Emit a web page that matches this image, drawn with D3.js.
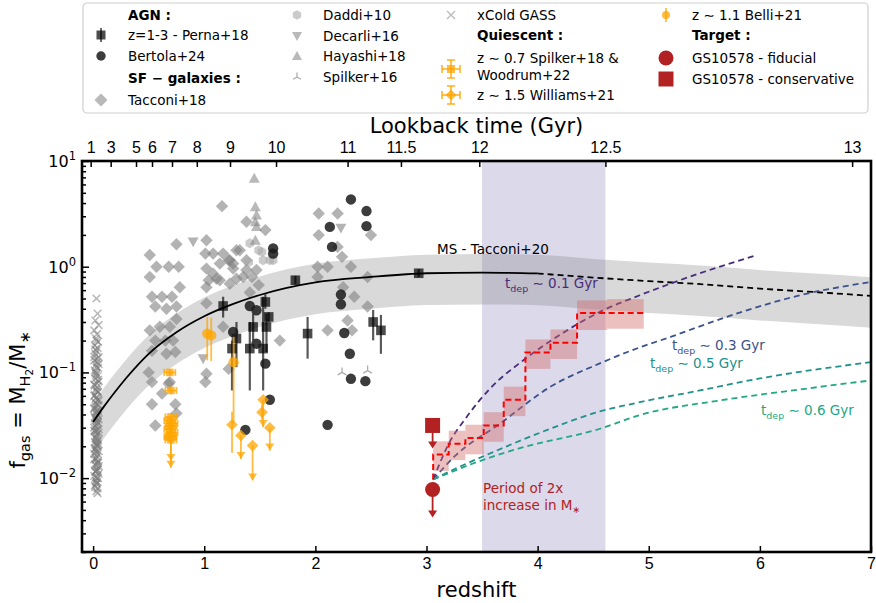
<html>
<head>
<meta charset="utf-8">
<script src="https://d3js.org/d3.v7.min.js"></script>
<style>
body { margin:0; background:#fff; }
svg { font-family: "DejaVu Sans", sans-serif; }
.axis path { display:none; }
.axis line { stroke:#000; stroke-width:1.5; }
.axis text { font-size:16px; fill:#000; }
</style>
</head>
<body>
<div id="chart"></div>
<script>

// ---------- data (redshift, f_gas) ----------
var msZ = [0,0.1,0.2,0.3,0.5,0.75,1,1.25,1.5,2,2.5,3,3.5,4,4.5,5,5.5,6,6.5,7];
var msF = [0.034,0.048,0.066,0.089,0.150,0.24,0.34,0.44,0.54,0.71,0.80,0.867,0.88,0.863,0.79,0.73,0.68,0.62,0.575,0.53];
var msSolidEnd = 4, msBandLo = 0.5, msBandHi = 1.5;

var periodBand = [3.5, 4.61];

var tdep01 = [[3.06,0.0097],[3.20,0.0211],[3.36,0.0377],[3.57,0.070],[3.87,0.130],[4.17,0.216],[4.59,0.387],[4.92,0.537],[5.28,0.745],[5.97,1.285]];
var tdep03 = [[3.06,0.0097],[3.26,0.0163],[3.66,0.0327],[4.11,0.0726],[4.56,0.1217],[4.92,0.1726],[5.21,0.219],[5.46,0.273],[5.91,0.395],[6.36,0.537],[7.0,0.718]];
var tdep05 = [[3.06,0.0097],[3.30,0.01285],[3.57,0.0171],[4.05,0.0276],[4.56,0.0427],[4.92,0.0523],[5.46,0.0675],[6.0,0.0877],[7.0,0.125]];
var tdep06 = [[3.06,0.0097],[3.39,0.0134],[3.84,0.0192],[4.56,0.0293],[4.92,0.0395],[5.64,0.0543],[6.36,0.069],[7.0,0.084]];
var tdepLabels = ["0.1","0.3","0.5","0.6"];

var stepEdges = [3.06,3.20,3.35,3.515,3.695,3.89,4.115,4.355,4.625,4.955];
var stepF  = [0.0167,0.0211,0.0240,0.0315,0.0551,0.154,0.191,0.365,0.365];
var stepLo = [0.0117,0.0148,0.0168,0.0221,0.0386,0.108,0.134,0.252,0.259];
var stepHi = [0.0223,0.0281,0.0320,0.0420,0.0734,0.205,0.255,0.480,0.493];
var stepStart = 0.0097;

var targetZ = 3.055;
var fiducial = [0.0078, 0.00424];      // value, upper-limit arrow end
var conservative = [0.0315, 0.0191];

var xcold = [[0.03,0.50],[0.04,0.36],[0.02,0.31],[0.05,0.28],[0.01,0.25],[0.035,0.23],[0.025,0.21],[0.045,0.195],[0.015,0.18],[0.04,0.17],[0.03,0.16],[0.02,0.15],[0.05,0.14],[0.01,0.13],[0.035,0.125],[0.025,0.118],[0.045,0.11],[0.015,0.104],[0.03,0.098],[0.04,0.092],[0.02,0.087],[0.05,0.082],[0.01,0.077],[0.035,0.073],[0.025,0.069],[0.045,0.065],[0.015,0.061],[0.03,0.058],[0.04,0.055],[0.02,0.052],[0.05,0.049],[0.01,0.046],[0.035,0.044],[0.025,0.041],[0.045,0.039],[0.015,0.037],[0.03,0.035],[0.04,0.033],[0.02,0.031],[0.05,0.029],[0.01,0.028],[0.035,0.026],[0.025,0.025],[0.045,0.023],[0.015,0.022],[0.03,0.021],[0.04,0.020],[0.02,0.019],[0.05,0.018],[0.01,0.017],[0.035,0.016],[0.025,0.015],[0.045,0.014],[0.015,0.0135],[0.03,0.013],[0.04,0.012],[0.02,0.0115],[0.05,0.011],[0.01,0.0105],[0.035,0.010],[0.025,0.0095],[0.03,0.009],[0.015,0.0085],[0.04,0.008],[0.03,0.0075],
  [0.01,0.14],[0.05,0.12],[0.02,0.10],[0.045,0.085],[0.015,0.075],[0.04,0.066],[0.01,0.06],[0.05,0.054],[0.02,0.048],[0.045,0.043],[0.015,0.038],[0.04,0.034],[0.01,0.030],[0.05,0.027],[0.02,0.024],[0.045,0.021],[0.015,0.019],[0.04,0.017],[0.01,0.015],[0.05,0.013],[0.02,0.0115],[0.045,0.010],[0.03,0.0088],[0.01,0.045],[0.05,0.036],[0.015,0.028],[0.04,0.022],[0.02,0.018],[0.045,0.0145],[0.035,0.012],
  [0.03,0.20],[0.02,0.165],[0.04,0.135],[0.03,0.112],[0.025,0.094],[0.035,0.079],[0.03,0.067],[0.025,0.057],[0.035,0.05],[0.03,0.042],[0.025,0.037],[0.035,0.032],[0.03,0.028],[0.025,0.0235],[0.035,0.0205],[0.03,0.0178],[0.025,0.0155],[0.035,0.0138],[0.03,0.0118],[0.025,0.0102],[0.035,0.0092],[0.02,0.0082],[0.04,0.0072]];

var tacconi = [[0.51,1.29],[0.57,1.0],[0.51,0.80],[0.68,1.0],[0.77,1.0],[0.78,0.64],[0.53,0.52],[0.62,0.52],[0.71,0.52],[0.56,0.42],[0.66,0.40],[0.75,0.42],[0.51,0.25],[0.60,0.27],[0.69,0.27],[0.75,0.32],[0.56,0.20],[0.65,0.20],[0.72,0.20],[0.53,0.16],[0.66,0.15],[0.74,0.156],[0.50,0.10],[0.53,0.081],[0.62,0.063],[0.68,0.078],[0.74,0.050],[0.53,0.050],[0.56,0.0315],[0.69,0.081],[0.75,0.041],[0.75,1.63],
  [1.02,1.78],[1.16,3.74],[1.02,0.96],[1.17,1.33],[1.29,1.43],[1.14,1.07],[1.22,1.15],[1.26,1.07],[1.04,0.745],[1.08,0.86],[1.14,0.745],[1.29,0.77],[1.38,0.93],[1.02,0.45],[1.17,0.27],[1.02,0.097],[1.01,0.081],[1.22,0.108],[1.01,1.33],[1.08,1.33],[1.32,1.43],[1.23,0.69],[1.02,0.64],[1.35,0.80],[1.11,0.77],[1.23,1.15],[1.38,1.15],[1.26,0.96],
  [1.38,2.66],[1.55,2.22],[1.47,0.93],[1.43,0.80],[1.49,0.67],[1.41,0.57],
  [2.03,3.19],[2.20,3.19],[2.03,1.99],[2.50,1.99],[2.20,1.54],[2.02,1.0],[2.11,1.0],[2.24,1.24],[2.32,1.0],[2.02,0.80],[2.25,0.64],[2.35,0.52],[2.47,0.80],[2.47,0.42],[2.29,0.31],[2.11,0.25],[2.33,0.25],[1.68,0.20]];

var daddi = [[1.41,1.67],[1.49,1.43],[1.59,1.15],[1.53,1.15],[1.52,1.38],[1.40,1.10],[1.62,1.15]];
var decarli = [[0.90,1.72],[0.99,0.135],[2.23,2.32]];
var hayashi = [[1.45,6.85],[1.46,3.69],[1.47,3.08],[1.46,2.66],[1.47,2.39],[1.46,1.78]];
var spilker16 = [[2.24,0.10],[2.47,0.104]];

// z, f, lower, upper
var perna = [[1.17,0.425,0.33,0.52],[1.25,0.168,0.0675,0.20],[1.29,0.209,0.112,0.30],[1.41,0.168,0.0675,0.30],[1.44,0.269,0.20,0.36],[1.53,0.168,0.0675,0.52],[1.55,0.464,0.40,0.55],[1.58,0.335,0.30,0.37],[1.56,0.269,0.156,0.36],[1.82,0.745,0.68,0.82],[1.93,0.233,0.135,0.335],[2.52,0.30,0.201,0.39],[2.59,0.25,0.150,0.35],[2.93,0.867,0.80,0.95]];

var bertola = [[1.62,1.49],[1.62,1.33],[1.41,0.425],[1.47,0.387],[1.26,0.241],[1.47,0.187],[1.55,0.121],[1.59,0.0551],[1.37,0.0286],[2.32,4.33],[2.46,3.36],[2.46,2.42],[2.13,2.38],[2.15,1.54],[2.23,0.545],[2.23,0.441],[2.26,0.236],[2.31,0.150],[2.32,0.087],[2.45,0.0827],[2.11,0.0319]];

// z, f, lower, upper, upper-limit flag
var spilker18 = [[0.69,0.10,0.093,0.108,0],[0.70,0.0675,0.062,0.073,0],[0.70,0.038,0.035,0.041,0],[0.69,0.035,0.032,0.038,0],[0.71,0.033,0.030,0.036,0],[0.70,0.031,0.028,0.034,0],[0.69,0.029,0.026,0.032,0],[0.71,0.027,0.024,0.030,0],[0.69,0.0245,0.022,0.027,0],[0.70,0.025,0.0145,0.025,1],[0.70,0.023,0.0125,0.023,1]];
var williams = [[1.25,0.032,0.0174,0.0425,0],[1.33,0.0253,0.0152,0.0253,1],[1.435,0.0203,0.0095,0.0203,1],[1.53,0.055,0.0304,0.055,1],[1.52,0.042,0.035,0.05,0],[1.59,0.030,0.0182,0.030,1]];
var belli = [[1.027,0.233,0.13,0.335],[1.063,0.224,0.128,0.33],[1.264,0.125,0.033,0.217]];

var lookbackLabels = ["1","3","5","6","7","8","9","10","11","11.5","12","12.5","13"];
var lookbackZ = [-0.022,0.158,0.386,0.53,0.71,0.933,1.232,1.646,2.29,2.77,3.475,4.61,6.83];
var zTicks = [0,1,2,3,4,5,6,7];
var yMajor = [0.01,0.1,1,10];
var yMajorExp = ["\u22122","\u22121","0","1"];

// ---------- setup ----------
var width = 876, height = 603;
var svg = d3.select("#chart").append("svg").attr("width", width).attr("height", height);

var x = d3.scaleLinear().domain([-0.1, 7]).range([82, 871]);
var y = d3.scaleLog().domain([0.002, 10]).range([552, 161]);

svg.append("clipPath").attr("id", "clip").append("rect")
	.attr("x", 82).attr("y", 161).attr("width", 789).attr("height", 391);
var g = svg.append("g").attr("clip-path", "url(#clip)");

var tacGray = "#808080", orange = "#ffa500", fire = "#b22222";
var tdepColors = ["#472d7b", "#3b528b", "#21918c", "#22a884"];

// marker paths centred on 0,0
function diamond(s) { return "M0," + (-s) + "L" + s + ",0L0," + s + "L" + (-s) + ",0Z"; }
function square(s) { return "M" + (-s) + "," + (-s) + "h" + 2*s + "v" + 2*s + "h" + (-2*s) + "Z"; }
function triUp(r) { return "M0," + (-r) + "L" + r + "," + (r*0.8) + "L" + (-r) + "," + (r*0.8) + "Z"; }
function triDown(r) { return "M0," + r + "L" + r + "," + (-r*0.8) + "L" + (-r) + "," + (-r*0.8) + "Z"; }
function hexagon(r) {
	var p = [];
	for (var i = 0; i < 6; i++) { var a = Math.PI/2 + i*Math.PI/3; p.push([r*Math.cos(a), -r*Math.sin(a)]); }
	return "M" + p.join("L") + "Z";
}
function threeArms(r) { return "M0,0L0," + (-r) + "M0,0L" + (r*0.87) + "," + (r*0.5) + "M0,0L" + (-r*0.87) + "," + (r*0.5); }
function cross(r) { return "M" + (-r) + "," + (-r) + "L" + r + "," + r + "M" + (-r) + "," + r + "L" + r + "," + (-r); }
function circle(r) { return "M" + (-r) + ",0A" + r + "," + r + " 0 1,0 " + r + ",0A" + r + "," + r + " 0 1,0 " + (-r) + ",0Z"; }
function arrowHead(w, h) { return "M" + (-w) + "," + (-h) + "L" + w + "," + (-h) + "L0,0Z"; }

function scatter(data, path, fill, op, stroke, sw) {
	g.append("g").selectAll("path").data(data).enter().append("path")
		.attr("transform", function(d) { return "translate(" + x(d[0]) + "," + y(d[1]) + ")"; })
		.attr("d", path)
		.attr("fill", fill)
		.attr("fill-opacity", op)
		.attr("stroke", stroke || "none")
		.attr("stroke-opacity", stroke ? op : null)
		.attr("stroke-width", sw || 0);
}

// period of 2x mass growth
g.append("rect")
	.attr("x", x(periodBand[0])).attr("y", 161)
	.attr("width", x(periodBand[1]) - x(periodBand[0])).attr("height", 391)
	.attr("fill", "#7b72b0").attr("fill-opacity", 0.27);

// main sequence band
var ms = msZ.map(function(z, i) { return [z, msF[i]]; });
g.append("path").datum(ms)
	.attr("d", d3.area().curve(d3.curveMonotoneX)
		.x(function(d) { return x(d[0]); })
		.y0(function(d) { return y(d[1]*msBandLo); })
		.y1(function(d) { return y(d[1]*msBandHi); }))
	.attr("fill", "#808080").attr("fill-opacity", 0.3);

// literature samples
scatter(xcold, cross(3.8), "none", 0.55, "#7a7a7a", 1.5);
scatter(tacconi, diamond(6.2), tacGray, 0.6);
scatter(daddi, hexagon(5), "#a8a8a8", 0.6);
scatter(decarli, triDown(5.5), tacGray, 0.6);
scatter(hayashi, triUp(5.5), tacGray, 0.55);
scatter(spilker16, threeArms(5), "none", 0.8, "#999", 1.3);

// Perna+18 with error bars
g.append("g").selectAll("line").data(perna).enter().append("line")
	.attr("x1", function(d) { return x(d[0]); }).attr("x2", function(d) { return x(d[0]); })
	.attr("y1", function(d) { return y(d[2]); }).attr("y2", function(d) { return y(d[3]); })
	.attr("stroke", "#000").attr("stroke-opacity", 0.65).attr("stroke-width", 2.2);
scatter(perna, square(4.8), "#000", 0.7);

scatter(bertola, circle(5.2), "#1a1a1a", 0.85);

// quiescent / orange samples
function orangeBars(data, capX) {
	var gg = g.append("g").attr("stroke", orange).attr("stroke-opacity", 0.75).attr("stroke-width", 1.8);
	data.forEach(function(d) {
		gg.append("line").attr("x1", x(d[0])).attr("x2", x(d[0])).attr("y1", y(d[2])).attr("y2", y(d[3]));
		if (d[4]) {
			gg.append("path").attr("d", arrowHead(4.5, 7))
				.attr("transform", "translate(" + x(d[0]) + "," + y(d[2]) + ")")
				.attr("fill", orange).attr("fill-opacity", 0.75).attr("stroke", "none");
		}
		if (capX) {
			gg.append("line").attr("x1", x(d[0] - capX)).attr("x2", x(d[0] + capX)).attr("y1", y(d[1])).attr("y2", y(d[1]));
			gg.append("line").attr("x1", x(d[0] - capX)).attr("x2", x(d[0] - capX)).attr("y1", y(d[1]) - 3.5).attr("y2", y(d[1]) + 3.5);
			gg.append("line").attr("x1", x(d[0] + capX)).attr("x2", x(d[0] + capX)).attr("y1", y(d[1]) - 3.5).attr("y2", y(d[1]) + 3.5);
		}
	});
}
orangeBars(spilker18, 0.05);
scatter(spilker18, square(3.8), orange, 0.75);
orangeBars(williams, 0);
scatter(williams, diamond(5.8), orange, 0.75);
orangeBars(belli.map(function(d) { return d.concat([0]); }), 0);
scatter(belli, circle(5.2), orange, 0.75);

// main sequence line
var line = d3.line().curve(d3.curveMonotoneX)
	.x(function(d) { return x(d[0]); }).y(function(d) { return y(d[1]); });
g.append("path").datum(ms.filter(function(d) { return d[0] <= msSolidEnd; }))
	.attr("d", line).attr("fill", "none").attr("stroke", "#000").attr("stroke-width", 1.8);
g.append("path").datum(ms.filter(function(d) { return d[0] >= msSolidEnd; }))
	.attr("d", line).attr("fill", "none").attr("stroke", "#000").attr("stroke-width", 1.8)
	.attr("stroke-dasharray", "6,4");

// depletion time tracks
[tdep01, tdep03, tdep05, tdep06].forEach(function(t, i) {
	g.append("path").datum(t).attr("d", line).attr("fill", "none")
		.attr("stroke", tdepColors[i]).attr("stroke-width", 1.8).attr("stroke-dasharray", "6,4");
});

// stellar-mass doubling steps
stepF.forEach(function(v, i) {
	g.append("rect")
		.attr("x", x(stepEdges[i])).attr("width", x(stepEdges[i+1]) - x(stepEdges[i]))
		.attr("y", y(stepHi[i])).attr("height", y(stepLo[i]) - y(stepHi[i]))
		.attr("fill", "#d46a6a").attr("fill-opacity", 0.42);
});
var steps = [[stepEdges[0], stepStart]];
stepF.forEach(function(v, i) { steps.push([stepEdges[i], v]); steps.push([stepEdges[i+1], v]); });
g.append("path").datum(steps)
	.attr("d", d3.line().x(function(d) { return x(d[0]); }).y(function(d) { return y(d[1]); }))
	.attr("fill", "none").attr("stroke", "#ff0000").attr("stroke-width", 2).attr("stroke-dasharray", "6,3.5");

// target upper limits
[fiducial, conservative].forEach(function(t) {
	g.append("line").attr("x1", x(targetZ)).attr("x2", x(targetZ))
		.attr("y1", y(t[0])).attr("y2", y(t[1]) - 4)
		.attr("stroke", fire).attr("stroke-width", 1.8);
	g.append("path").attr("d", arrowHead(4.5, 7))
		.attr("transform", "translate(" + x(targetZ) + "," + y(t[1]) + ")").attr("fill", fire);
});
g.append("path").attr("d", circle(7.5))
	.attr("transform", "translate(" + x(targetZ) + "," + y(fiducial[0]) + ")").attr("fill", fire);
g.append("path").attr("d", square(7.5))
	.attr("transform", "translate(" + x(targetZ) + "," + y(conservative[0]) + ")").attr("fill", fire);

// ---------- annotations ----------
function label(parent, px, py, parts, size, color, anchor) {
	var t = parent.append("text").attr("x", px).attr("y", py)
		.attr("font-size", size).attr("fill", color || "#000")
		.attr("text-anchor", anchor || "start");
	var prev = 0;
	parts.forEach(function(p) {
		var off = p[1] || 0, fs = p[2] || size;
		t.append("tspan").attr("dy", off - prev).attr("font-size", fs).text(p[0]);
		prev = off;
	});
	return t;
}
svg.append("text").attr("x", 437).attr("y", 254).attr("font-size", 13.5).text("MS - Tacconi+20");

var tdepPos = [[505, 288], [672, 350], [650, 368], [761, 415]];
tdepLabels.forEach(function(s, i) {
	label(svg, tdepPos[i][0], tdepPos[i][1],
		[["t"], ["dep", 4, 9.5], [" \u223c " + s + " Gyr", 0]], 13.5, tdepColors[i]);
});
svg.append("text").attr("x", 483).attr("y", 493).attr("font-size", 13.5).attr("fill", fire).text("Period of 2x");
label(svg, 483, 510, [["increase in M"], ["\u2217", 3, 9.5]], 13.5, fire);

// ---------- axes ----------
svg.append("g").attr("class", "axis").attr("transform", "translate(0,552)")
	.call(d3.axisBottom(x).tickValues(zTicks).tickSize(-6).tickPadding(6).tickFormat(d3.format("d")));
svg.append("g").attr("class", "axis").attr("transform", "translate(0,161)")
	.call(d3.axisTop(x).tickValues(lookbackZ).tickSize(-6).tickPadding(8)
		.tickFormat(function(d, i) { return lookbackLabels[i]; }));

var minor = y.ticks().filter(function(v) { return yMajor.indexOf(v) < 0; });
svg.append("g").attr("class", "axis").attr("transform", "translate(82,0)")
	.call(d3.axisLeft(y).tickValues(minor).tickSize(-4).tickFormat(""));
svg.append("g").attr("class", "axis").attr("transform", "translate(82,0)")
	.call(d3.axisLeft(y).tickValues(yMajor).tickSize(-7).tickFormat(""));
yMajor.forEach(function(v, i) {
	var t = svg.append("text").attr("x", 76).attr("y", y(v) + 6).attr("text-anchor", "end").attr("font-size", 16);
	t.append("tspan").text("10");
	t.append("tspan").attr("dy", -7).attr("font-size", 11.5).text(yMajorExp[i]);
});

svg.append("rect").attr("x", 82).attr("y", 161).attr("width", 789).attr("height", 391)
	.attr("fill", "none").attr("stroke", "#000").attr("stroke-width", 2.6);

svg.append("text").attr("x", 476.5).attr("y", 597).attr("text-anchor", "middle").attr("font-size", 21).text("redshift");
svg.append("text").attr("x", 476.5).attr("y", 133).attr("text-anchor", "middle").attr("font-size", 21).text("Lookback time (Gyr)");

var yl = label(svg, 0, 0, [["f"], ["gas", 5, 14.5], [" = M", 0], ["H", 5, 14.5], ["2", 8, 10.5], ["/M", 0], ["\u2217", 5, 14.5]], 21, "#000", "middle");
yl.attr("transform", "translate(25,400) rotate(-90)");

// ---------- legend ----------
var lg = svg.append("g");
lg.append("rect").attr("x", 83).attr("y", 3).attr("width", 785).attr("height", 110).attr("rx", 4)
	.attr("fill", "#fff").attr("stroke", "#cfcfcf").attr("stroke-width", 1.2);

function legText(px, py, s, bold) {
	return lg.append("text").attr("x", px).attr("y", py + 5).attr("font-size", 13.5)
		.attr("font-weight", bold ? "bold" : null).text(s);
}
function legMark(px, py, path, fill, op, stroke, sw) {
	lg.append("path").attr("d", path).attr("transform", "translate(" + px + "," + py + ")")
		.attr("fill", fill).attr("fill-opacity", op)
		.attr("stroke", stroke || "none").attr("stroke-opacity", stroke ? op : null).attr("stroke-width", sw || 0);
}
function legBar(x1, y1, x2, y2, color, op) {
	lg.append("line").attr("x1", x1).attr("y1", y1).attr("x2", x2).attr("y2", y2)
		.attr("stroke", color).attr("stroke-opacity", op).attr("stroke-width", 1.8);
}

legText(128, 15, "AGN :", true);
legBar(101, 28, 101, 42, "#000", 0.65);
legMark(101, 35, square(4.5), "#000", 0.7);
legText(128, 35, "z=1-3 - Perna+18");
legMark(101, 56, circle(4.7), "#1a1a1a", 0.85);
legText(128, 56, "Bertola+24");
legText(128, 78, "SF \u2212 galaxies :", true);
legMark(101, 100, diamond(6.5), tacGray, 0.55);
legText(128, 100, "Tacconi+18");

legMark(297, 15, hexagon(4.8), "#a8a8a8", 0.6);
legText(323, 15, "Daddi+10");
legMark(297, 36, triDown(5), tacGray, 0.55);
legText(323, 36, "Decarli+16");
legMark(297, 56, triUp(5), tacGray, 0.55);
legText(323, 56, "Hayashi+18");
legMark(297, 77, threeArms(4.5), "none", 0.8, "#999", 1.3);
legText(323, 77, "Spilker+16");

legMark(451, 15, cross(4), "none", 0.5, "#7a7a7a", 1.4);
legText(477, 15, "xCold GASS");
legText(477, 35, "Quiescent :", true);
legBar(442, 69, 460, 69, orange, 0.75); legBar(451, 60, 451, 78, orange, 0.75);
legBar(442, 65, 442, 73, orange, 0.75); legBar(460, 65, 460, 73, orange, 0.75);
legBar(447, 60, 455, 60, orange, 0.75); legBar(447, 78, 455, 78, orange, 0.75);
legMark(451, 69, square(4), orange, 0.75);
legText(477, 58, "z \u223c 0.7 Spilker+18 &");
legText(477, 75, "Woodrum+22");
legBar(442, 95, 460, 95, orange, 0.75); legBar(451, 86, 451, 104, orange, 0.75);
legBar(442, 91, 442, 99, orange, 0.75); legBar(460, 91, 460, 99, orange, 0.75);
legBar(447, 86, 455, 86, orange, 0.75); legBar(447, 104, 455, 104, orange, 0.75);
legMark(451, 95, diamond(5.5), orange, 0.75);
legText(477, 95, "z \u223c 1.5 Williams+21");

legBar(666, 8, 666, 22, orange, 0.75);
legMark(666, 15, circle(4), orange, 0.75);
legText(692, 15, "z \u223c 1.1 Belli+21");
legText(692, 35, "Target :", true);
legMark(666, 58, circle(7.5), fire, 1);
legText(692, 58, "GS10578 - fiducial");
legMark(666, 79, square(7.5), fire, 1);
legText(692, 79, "GS10578 - conservative");

</script>
</body>
</html>
